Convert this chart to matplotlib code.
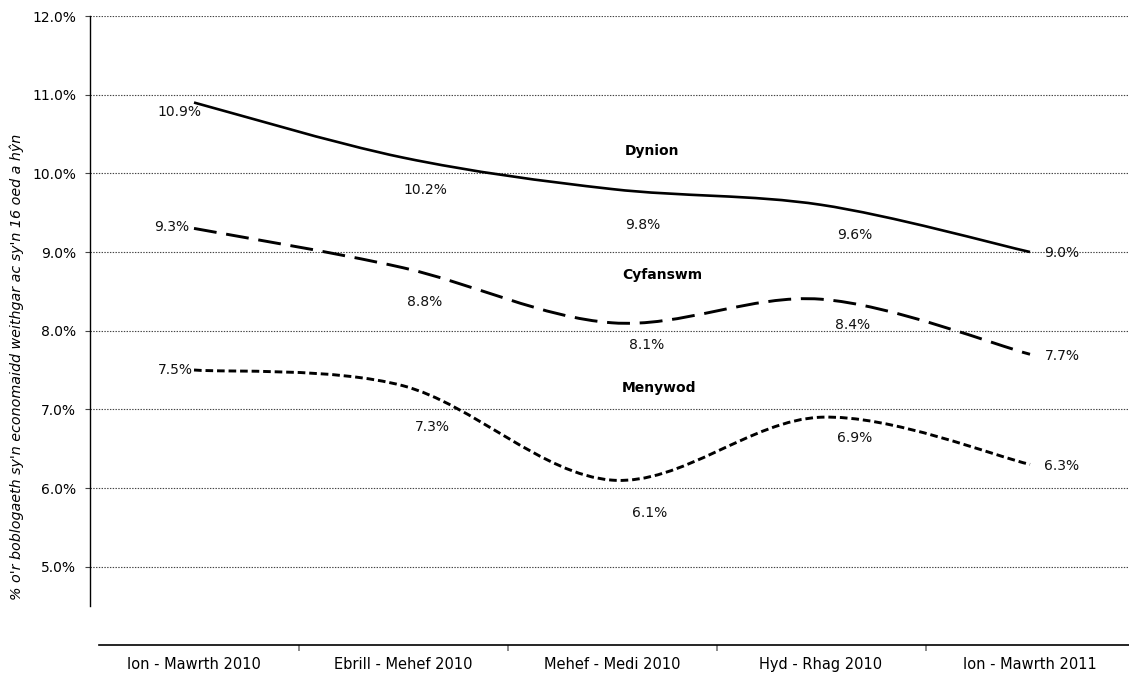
import matplotlib
matplotlib.use('Agg')
import matplotlib.pyplot as plt
from matplotlib.path import Path
from matplotlib.patches import PathPatch
from matplotlib.ticker import FixedLocator, FuncFormatter

plt.rcParams['font.family'] = ['DejaVu Sans']
plt.rcParams['lines.scale_dashes'] = False

categories = ['Ion - Mawrth 2010', 'Ebrill - Mehef 2010', 'Mehef - Medi 2010',
              'Hyd - Rhag 2010', 'Ion - Mawrth 2011']
dynion = [10.9, 10.2, 9.8, 9.6, 9.0]
cyfanswm = [9.3, 8.8, 8.1, 8.4, 7.7]
menywod = [7.5, 7.3, 6.1, 6.9, 6.3]
series_names = ['Dynion', 'Cyfanswm', 'Menywod']
ylabel = "% o'r boblogaeth sy'n economaidd weithgar ac sy'n 16 oed a hŷn"

# label offsets in pixels (dx, dy) for each point
offsets = {
    'Dynion': [(-15, -9), (22, -32), (31, -36), (34, -30), (32, -1)],
    'Cyfanswm': [(-22, 1), (22, -34), (35, -22), (32, -26), (32, -2)],
    'Menywod': [(-19, 0), (29, -41), (38, -33), (34, -21), (32, -2)],
}
name_pos = {'Dynion': (2.062, 10.284), 'Cyfanswm': (2.048, 8.708), 'Menywod': (2.048, 7.271)}
styles = {
    'Dynion': dict(linestyle='-', lw=1.9),
    'Cyfanswm': dict(linestyle=(0, (16.5, 7.0)), lw=2.1),
    'Menywod': dict(linestyle=(0, (5.5, 2.8)), lw=2.1),
}


def smooth_path(xs, ys):
    # Excel-like smoothed line: Catmull-Rom as cubic Bezier segments
    pts = list(zip(xs, ys))
    n = len(pts)
    verts = [pts[0]]
    codes = [Path.MOVETO]
    for i in range(n - 1):
        p0 = pts[max(i - 1, 0)]
        p1 = pts[i]
        p2 = pts[i + 1]
        p3 = pts[min(i + 2, n - 1)]
        c1 = (p1[0] + (p2[0] - p0[0]) / 6, p1[1] + (p2[1] - p0[1]) / 6)
        c2 = (p2[0] - (p3[0] - p1[0]) / 6, p2[1] - (p3[1] - p1[1]) / 6)
        verts += [c1, c2, p2]
        codes += [Path.CURVE4] * 3
    return Path(verts, codes)


fig = plt.figure(figsize=(11.29, 6.75), dpi=100)
ax = fig.add_axes([89.5 / 1129, 69 / 675, 1045 / 1129, 590 / 675])
ax.set_xlim(-0.5, 4.5)
ax.set_ylim(4.5, 12.0)

x = list(range(len(categories)))
for name, vals in zip(series_names, [dynion, cyfanswm, menywod]):
    patch = PathPatch(smooth_path(x, vals), fill=False, edgecolor='black',
                      capstyle='butt', joinstyle='round', **styles[name])
    ax.add_patch(patch)
    for xi, v, (dx, dy) in zip(x, vals, offsets[name]):
        ax.annotate(f'{v:.1f}%', (xi, v), xytext=(dx, dy), textcoords='offset pixels',
                    ha='center', va='center', fontsize=10, color='#111111')
    nx, ny = name_pos[name]
    ax.text(nx, ny, name, ha='left', va='center', fontsize=10, fontweight='bold')

# y axis
ax.set_yticks([5, 6, 7, 8, 9, 10, 11, 12])
ax.yaxis.set_major_formatter(FuncFormatter(lambda v, p: f'{v:.1f}%'))
ax.tick_params(axis='y', length=3.6, width=0.8, color='#444444', pad=6, labelsize=10)
ax.yaxis.grid(True, color='#444444', linestyle=(0, (1, 1)), linewidth=0.8)
ax.set_axisbelow(True)

# x axis (category axis set apart below the plot)
for s in ['top', 'right']:
    ax.spines[s].set_visible(False)
ax.spines['left'].set_linewidth(1.0)
ax.spines['bottom'].set_position(('outward', 28))
ax.spines['bottom'].set_bounds(-0.4545, 4.5)
ax.spines['bottom'].set_linewidth(1.2)
ax.set_xticks(x)
ax.set_xticklabels(categories)
ax.xaxis.set_minor_locator(FixedLocator([0.5, 1.5, 2.5, 3.5]))
ax.tick_params(axis='x', which='major', length=0, pad=9, labelsize=10.5)
ax.tick_params(axis='x', which='minor', length=4.3, width=1.2, color='#777777')

fig.text(17 / 1129, 1 - 367 / 675, ylabel, rotation=90, style='italic',
         ha='center', va='center', fontsize=10.3)

fig.savefig('out.png', dpi=100)
